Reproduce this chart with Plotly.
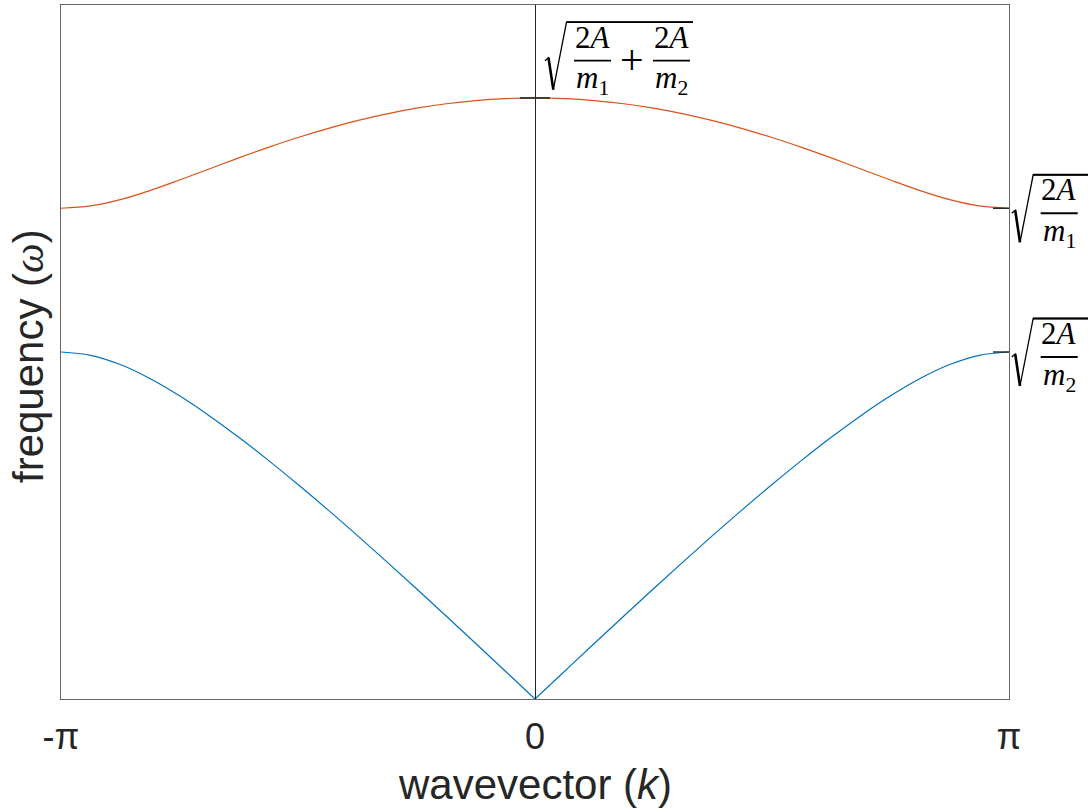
import numpy as np
import plotly.graph_objects as go

# Wavevector samples over half the Brillouin zone, in units of pi
k_over_pi = [0.0, 0.0625, 0.125, 0.1875, 0.25, 0.3125, 0.375, 0.4375, 0.5,
             0.5625, 0.625, 0.6875, 0.75, 0.8125, 0.875, 0.9375, 1.0]
# Optical branch frequency at those wavevectors
optical = [1.7321, 1.7302, 1.7247, 1.7154, 1.7026, 1.6863, 1.6667, 1.6438, 1.6180,
           1.5897, 1.5593, 1.5275, 1.4956, 1.4652, 1.4391, 1.4209, 1.4142]
# Acoustic branch frequency at those wavevectors
acoustic = [0.0, 0.0801, 0.1600, 0.2393, 0.3179, 0.3953, 0.4714, 0.5458, 0.6180,
            0.6877, 0.7541, 0.8165, 0.8736, 0.9236, 0.9638, 0.9905, 1.0]

# Band-edge frequencies: sqrt(2A/m1 + 2A/m2), sqrt(2A/m1), sqrt(2A/m2)
w_top = 1.7321
w_m1 = 1.4142
w_m2 = 1.0

x_ticks = [-np.pi, 0.0, np.pi]
x_tick_text = ["-\u03c0", "0", "\u03c0"]

ORANGE = "#D95319"
BLUE = "#0072BD"
DARK = "#262626"
SANS = "Liberation Sans, Arial, sans-serif"
SERIF = "Liberation Serif, Times New Roman, serif"
MATH_SIZE = 31

k_pos = [np.pi * v for v in k_over_pi]
k_neg = [-v for v in reversed(k_pos)]

fig = go.Figure()
# optical branch (symmetric in k)
fig.add_trace(go.Scatter(x=k_neg + k_pos[1:], y=list(reversed(optical)) + optical[1:],
                         mode="lines", line=dict(color=ORANGE, width=1.2, shape="spline"),
                         hoverinfo="skip"))
# acoustic branch, drawn as two halves so the cusp at k = 0 stays sharp
fig.add_trace(go.Scatter(x=k_neg, y=list(reversed(acoustic)), mode="lines",
                         line=dict(color=BLUE, width=1.2, shape="spline"), hoverinfo="skip"))
fig.add_trace(go.Scatter(x=k_pos, y=acoustic, mode="lines",
                         line=dict(color=BLUE, width=1.2, shape="spline"), hoverinfo="skip"))

shapes = []
annotations = []

# short tick marks at the band edges
shapes.append(dict(type="line", xref="x", yref="y", xsizemode="pixel", xanchor=0,
                   x0=-15, x1=15, y0=w_top, y1=w_top, line=dict(color=DARK, width=1.6)))
for w in (w_m1, w_m2):
    shapes.append(dict(type="line", xref="paper", yref="y", xsizemode="pixel", xanchor=1,
                       x0=-16, x1=0, y0=w, y1=w, line=dict(color=DARK, width=1.4)))


def math_text(xref, xa, ya, dx, dy, text, yanchor, size=MATH_SIZE):
    annotations.append(dict(xref=xref, yref="y", x=xa, y=ya, xshift=dx, yshift=dy,
                            text=text, showarrow=False, xanchor="center", yanchor=yanchor,
                            font=dict(family=SERIF, size=size, color="black"),
                            borderpad=0))


def sqrt_of_fractions(xref, xa, ya, x0, b, denominators, x_end):
    """Radical over a sum of 2A/m fractions; offsets in pixels, y up, b = fraction bar."""
    common = dict(xref=xref, yref="y", xsizemode="pixel", ysizemode="pixel",
                  xanchor=xa, yanchor=ya)
    path = (f"M {x0},{b} L {x0 + 3.5},{b + 3} L {x0 + 8.3},{b - 29} "
            f"L {x0 + 21.5},{b + 38.5} L {x_end},{b + 38.5}")
    shapes.append(dict(type="path", path=path, line=dict(color="black", width=1.3), **common))
    shapes.append(dict(type="line", x0=x0 + 3.5, y0=b + 3, x1=x0 + 8.3, y1=b - 29,
                       line=dict(color="black", width=2.6), **common))
    shapes.append(dict(type="line", x0=x0 + 21.5, y0=b + 38.5, x1=x_end, y1=b + 38.5,
                       line=dict(color="black", width=1.8), **common))
    left = x0 + 29
    for i, sub in enumerate(denominators):
        if i > 0:
            math_text(xref, xa, ya, left + 21, b + 0.7, "+", "middle", size=42)
            left += 42
        shapes.append(dict(type="line", x0=left, y0=b, x1=left + 37, y1=b,
                           line=dict(color="black", width=1.8), **common))
        cx = left + 18.5
        math_text(xref, xa, ya, cx, b + 5, "2<i>A</i>", "bottom")
        math_text(xref, xa, ya, cx, b + 1.5, f"<i>m</i><sub>{sub}</sub>", "top")
        left += 37


sqrt_of_fractions("x", 0, w_top, 10, 37.3, ["1", "2"], 158)
sqrt_of_fractions("paper", 1, w_m1, 2.7, -5, ["1"], 120)
sqrt_of_fractions("paper", 1, w_m2, 2.7, -5, ["2"], 120)

# axis titles
annotations.append(dict(xref="paper", yref="paper", x=0.5, y=0, yshift=-60, xanchor="center",
                        yanchor="top", showarrow=False,
                        text="wavevector (<i>k</i>)",
                        font=dict(family=SANS, size=42, color=DARK)))
annotations.append(dict(xref="paper", yref="paper", x=0, y=0.5, xshift=-33, yshift=-4,
                        xanchor="center", yanchor="middle", textangle=-90, showarrow=False,
                        text="frequency (<span style=\"font-family:Liberation Serif\"><i>\u03c9</i></span>)",
                        font=dict(family=SANS, size=42, color=DARK)))

fig.update_layout(
    width=1088, height=812,
    margin=dict(l=61, r=79, t=5, b=113, pad=0),
    paper_bgcolor="white", plot_bgcolor="white",
    showlegend=False,
    shapes=shapes, annotations=annotations,
    xaxis=dict(range=[-np.pi, np.pi], tickvals=x_ticks, ticktext=x_tick_text,
               ticks="inside", ticklen=10, tickwidth=1, tickcolor=DARK,
               showline=True, linecolor="#666666", linewidth=1, mirror="ticks",
               showgrid=False, zeroline=True, zerolinecolor=DARK, zerolinewidth=1,
               tickfont=dict(family=SANS, size=36, color=DARK), ticklabelstandoff=6),
    yaxis=dict(range=[0, 2], showticklabels=False, ticks="", showline=True,
               linecolor="#666666", linewidth=1, mirror=True,
               showgrid=False, zeroline=False),
)

fig.write_html("out.html")
